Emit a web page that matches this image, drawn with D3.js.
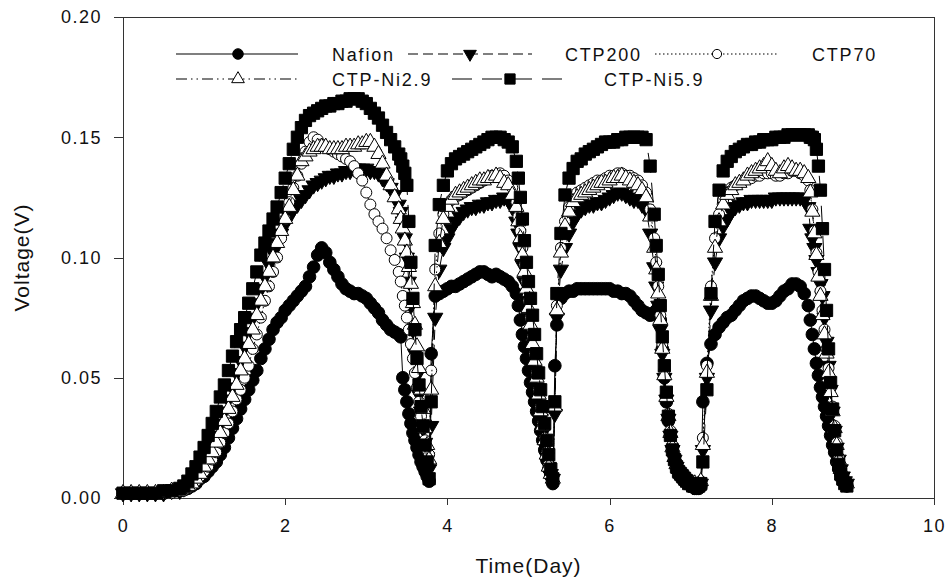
<!DOCTYPE html>
<html>
<head>
<meta charset="utf-8">
<title>Voltage vs Time</title>
<script src="https://d3js.org/d3.v7.min.js"></script>
<style>
  body { margin: 0; background: #fff; }
  svg { display: block; }
  .axis path, .axis line { stroke: #333; stroke-width: 1; shape-rendering: crispEdges; }
  .axis text { font-family: "Liberation Sans", Arial, sans-serif; font-size: 18px; letter-spacing: 1.5px; fill: #111; }
  .legend text { font-family: "Liberation Sans", Arial, sans-serif; font-size: 18px; letter-spacing: 1.8px; fill: #111; }
  .title { font-family: "Liberation Sans", Arial, sans-serif; font-size: 21px; letter-spacing: 1px; fill: #111; }
</style>
</head>
<body>
<svg width="949" height="578"></svg>
<script>
// time axis (days), shared by all series
const days = [0,0.1,0.2,0.3,0.4,0.5,0.6,0.7,
  0.75,0.8,0.85,0.9,0.95,1,1.05,1.1,1.15,1.2,1.25,1.3,1.35,1.4,1.45,1.5,1.55,1.6,1.65,1.7,1.75,1.8,1.85,1.9,1.95,2,2.05,2.1,2.15,2.2,2.25,2.3,2.35,2.4,2.45,2.5,2.55,2.6,2.65,2.7,2.75,2.8,2.85,2.9,2.95,3,3.05,3.1,3.15,3.2,3.25,3.3,3.35,3.4,
  3.425,3.45,3.475,3.5,3.525,3.55,3.575,3.6,3.625,3.65,3.675,3.7,3.725,3.75,3.775,3.8,
  3.85,3.9,3.95,4,4.05,4.1,4.15,4.2,4.25,4.3,4.35,4.4,4.45,4.5,4.55,4.6,4.65,4.7,4.75,4.8,4.85,
  4.875,4.9,4.925,4.95,4.975,5,5.025,5.05,5.075,5.1,5.125,5.15,5.175,5.2,5.225,5.25,5.275,5.3,5.325,5.35,
  5.4,5.45,5.5,5.55,5.6,5.65,5.7,5.75,5.8,5.85,5.9,5.95,6,6.05,6.1,6.15,6.2,6.25,6.3,6.35,6.4,6.45,6.5,6.55,
  6.575,6.6,6.625,6.65,6.675,6.7,6.725,6.75,6.775,6.8,6.825,6.85,6.875,6.9,6.925,6.95,6.975,7,7.025,7.05,7.075,7.1,7.125,7.15,
  7.2,7.25,7.3,7.35,7.4,7.45,7.5,7.55,7.6,7.65,7.7,7.75,7.8,7.85,7.9,7.95,8,8.05,8.1,8.15,8.2,8.25,8.3,8.35,8.4,8.45,
  8.475,8.5,8.525,8.55,8.575,8.6,8.625,8.65,8.675,8.7,8.725,8.75,8.775,8.8,8.825,8.85,8.875,8.9,8.925];

// readings in mV
const nafion = [2,2,2,2,2,2,3,3,
  4,4,5,6,8,9,11,13,15,18,21,25,29,33,37,41,45,49,53,58,62,66,70,73,75,78,80,82,84,86,88,92,96,101,104,102,98,95,92,89,87,86,85,85,84,83,81,79,77,74,72,70,69,68,
  67,50,45,40,35,31,27,24,21,18,15,13,11,9,7,60,
  84,85,86,87,88,88,89,90,91,92,93,94,94,93,92,93,92,91,90,88,85,
  80,74,68,63,58,53,48,44,40,36,32,28,24,20,16,12,9,6,55,72,
  83,85,86,86,87,87,87,87,87,87,87,87,87,86,86,85,85,84,82,80,78,77,76,77,
  78,77,74,62,50,40,32,26,21,17,14,12,10,9,8,7,6,5,5,4,4,4,5,40,
  56,64,68,71,73,75,76,78,80,82,83,84,84,83,82,81,81,82,84,86,87,89,89,88,85,80,
  74,68,62,56,51,46,42,38,34,30,26,22,19,15,12,10,8,6,5];

const ctp200 = [2,2,2,2,2,2,3,3,
  4,5,7,9,12,15,18,22,26,31,36,41,46,52,57,63,69,75,81,87,92,97,102,106,110,114,117,120,122,124,126,128,130,131,132,133,134,134,135,135,136,136,137,137,137,137,136,136,135,133,131,129,126,122,
  119,115,108,100,90,80,70,60,51,43,36,29,23,17,12,30,
  75,95,104,108,112,115,117,119,120,121,121,122,122,123,123,124,124,125,124,121,115,
  110,104,97,90,82,75,67,60,53,46,39,33,27,22,17,13,10,8,35,75,
  95,104,110,115,118,120,121,122,122,123,123,124,125,126,127,127,126,125,124,124,122,120,110,96,
  88,80,70,60,50,41,33,26,20,16,13,11,10,9,8,7,6,6,5,5,5,5,6,20,
  50,78,98,108,113,116,119,121,122,123,123,124,124,124,124,124,124,125,125,125,125,125,125,125,124,121,
  112,108,104,99,94,89,84,75,65,55,45,36,28,21,16,12,9,7,6];

const ctp70 = [2,2,2,2,2,2,2,3,
  3,4,5,7,9,11,13,16,19,23,27,31,36,41,45,50,55,62,68,75,82,88,94,100,108,116,123,129,134,139,144,148,150,149,147,146,145,144,143,142,141,140,138,135,132,127,122,118,115,112,108,103,99,94,
  90,84,80,75,70,64,58,52,46,40,34,29,24,20,18,53,
  95,110,118,122,124,125,126,127,128,129,130,131,132,133,134,134,135,134,132,129,123,
  117,111,104,97,90,82,75,67,60,52,45,38,31,25,19,14,10,8,40,80,
  104,115,121,125,127,128,129,130,131,132,132,133,134,134,135,135,134,134,133,132,130,127,120,108,
  98,88,76,64,53,43,35,28,22,18,15,12,11,10,9,8,7,7,6,6,6,6,7,25,
  55,88,108,118,124,127,129,130,131,132,133,133,134,134,135,135,135,134,134,135,135,136,136,135,134,132,
  128,120,111,102,94,86,78,70,62,54,46,38,30,23,17,12,9,7,6];

const ctpNi29 = [2,2,2,2,2,2,3,3,
  4,5,6,8,10,13,16,19,23,27,32,37,42,47,53,58,64,70,76,82,88,94,100,106,111,116,121,128,134,140,142,144,145,146,146,146,145,145,145,145,146,146,146,147,147,148,148,146,143,139,134,130,125,120,
  116,112,107,102,96,89,81,72,63,54,45,37,29,22,16,45,
  88,106,116,121,124,126,127,128,129,130,131,132,132,133,133,134,133,131,130,126,121,
  115,108,101,94,87,79,72,64,57,50,43,36,30,24,18,13,10,8,38,78,
  102,113,119,123,125,126,127,128,129,130,131,131,132,133,133,134,133,132,131,130,128,125,117,104,
  95,85,74,62,51,42,34,27,21,17,14,12,10,9,8,7,7,6,6,6,5,5,7,22,
  52,84,104,115,122,126,128,130,131,132,134,135,136,137,138,140,138,136,135,137,138,137,136,136,135,133,
  127,119,110,101,92,84,76,68,60,52,44,36,29,22,16,12,9,7,6];

const ctpNi59 = [2,2,2,2,2,3,3,4,
  5,7,10,13,17,21,26,31,36,42,47,53,59,65,70,75,81,87,94,101,106,111,116,121,127,133,139,145,150,154,157,159,160,161,162,163,163,164,164,165,165,166,166,166,165,164,162,160,158,155,152,149,146,143,
  141,138,135,130,115,98,83,70,58,47,38,30,22,15,8,40,
  105,122,130,136,139,141,142,143,144,145,146,147,148,149,150,150,150,149,148,146,140,
  133,125,116,107,98,90,83,76,68,60,52,45,38,31,24,18,12,8,40,85,
  110,126,133,137,140,141,143,144,145,146,147,148,148,148,149,149,150,150,150,150,150,149,138,118,
  105,93,80,67,55,44,34,26,20,16,13,11,10,9,8,7,6,6,5,5,5,5,6,15,
  45,85,115,128,136,140,142,144,145,146,147,147,148,148,149,149,149,150,150,150,151,151,151,151,151,151,
  150,150,149,145,138,128,112,95,78,62,48,37,28,20,14,10,8,6,5];

const seriesNames = ["Nafion", "CTP200", "CTP70", "CTP-Ni2.9", "CTP-Ni5.9"];
const seriesValues = [nafion, ctp200, ctp70, ctpNi29, ctpNi59];
const xTicks = [0, 2, 4, 6, 8, 10];
const yTicks = [0, 0.05, 0.10, 0.15, 0.20];

// marker / line style per series (size = symbol area in px^2)
const styles = [
  { shape: d3.symbolCircle,   size: 125, rot: 0,   fill: "#000", dash: null },
  { shape: d3.symbolTriangle, size: 100, rot: 180, fill: "#000", dash: "10,5" },
  { shape: d3.symbolCircle,   size: 95,  rot: 0,   fill: "#fff", dash: "1.5,2.5" },
  { shape: d3.symbolTriangle, size: 100, rot: 0,   fill: "#fff", dash: "11,4,1.5,4,1.5,4" },
  { shape: d3.symbolSquare,   size: 150, rot: 0,   fill: "#000", dash: "20,10" }
];

// legend placement: sample line x1..x2, marker mx, text tx, row y
const legendPos = [
  { x1: 176, x2: 298, mx: 238, tx: 332, y: 54 },
  { x1: 408, x2: 532, mx: 470, tx: 565, y: 54 },
  { x1: 655, x2: 778, mx: 717, tx: 812, y: 54 },
  { x1: 176, x2: 298, mx: 238, tx: 332, y: 79 },
  { x1: 452, x2: 562, mx: 510, tx: 604, y: 79 }
];

const margin = { top: 17, right: 15, bottom: 80, left: 123 };
const width = 949 - margin.left - margin.right;
const height = 578 - margin.top - margin.bottom;

const svg = d3.select("svg")
  .append("g")
  .attr("transform", "translate(" + margin.left + "," + margin.top + ")");

const x = d3.scaleLinear().domain([0, 10]).range([0, width]);
const y = d3.scaleLinear().domain([0, 0.2]).range([height, 0]);

// frame (top and right)
svg.append("line").attr("x1", 0).attr("x2", width).attr("y1", 0.5).attr("y2", 0.5)
  .attr("stroke", "#333").attr("shape-rendering", "crispEdges");
svg.append("line").attr("x1", width + 0.5).attr("x2", width + 0.5).attr("y1", 0).attr("y2", height)
  .attr("stroke", "#333").attr("shape-rendering", "crispEdges");

svg.append("g")
  .attr("class", "axis")
  .attr("transform", "translate(0," + height + ")")
  .call(d3.axisBottom(x).tickValues(xTicks).tickSize(7).tickSizeOuter(0).tickPadding(14).tickFormat(d3.format("d")));

svg.append("g")
  .attr("class", "axis")
  .call(d3.axisLeft(y).tickValues(yTicks).tickSize(9).tickSizeOuter(0).tickPadding(12).tickFormat(d3.format(".2f")));

// axis titles
svg.append("text").attr("class", "title")
  .attr("x", width / 2).attr("y", 556)
  .attr("text-anchor", "middle")
  .text("Time(Day)");

svg.append("text").attr("class", "title")
  .attr("transform", "translate(" + (29 - margin.left) + "," + (height / 2) + ") rotate(-90)")
  .attr("text-anchor", "middle")
  .text("Voltage(V)");

const line = d3.line().x(d => x(d.t)).y(d => y(d.v));

function symbolPath(st, k) {
  return d3.symbol().type(st.shape).size(st.size * k)();
}

seriesValues.forEach((vals, i) => {
  const st = styles[i];
  const n = Math.min(days.length, vals.length);
  const pts = [];
  for (let k = 0; k < n; k++) pts.push({ t: days[k], v: vals[k] / 1000 });

  const g = svg.append("g");
  g.append("path")
    .datum(pts)
    .attr("d", line)
    .attr("fill", "none")
    .attr("stroke", "#000")
    .attr("stroke-width", 1)
    .attr("stroke-dasharray", st.dash);

  g.selectAll("path.pt")
    .data(pts)
    .join("path")
    .attr("class", "pt")
    .attr("d", symbolPath(st, 1))
    .attr("transform", d => "translate(" + x(d.t) + "," + y(d.v) + ") rotate(" + st.rot + ")")
    .attr("fill", st.fill)
    .attr("stroke", "#000")
    .attr("stroke-width", 1);
});

// legend (absolute page coordinates)
const legend = d3.select("svg").append("g").attr("class", "legend");
seriesNames.forEach((name, i) => {
  const st = styles[i];
  const p = legendPos[i];
  legend.append("line")
    .attr("x1", p.x1).attr("x2", p.x2).attr("y1", p.y).attr("y2", p.y)
    .attr("stroke", "#000").attr("stroke-width", 1.2)
    .attr("stroke-dasharray", st.dash);
  legend.append("path")
    .attr("d", symbolPath(st, 0.7))
    .attr("transform", "translate(" + p.mx + "," + p.y + ") rotate(" + st.rot + ")")
    .attr("fill", st.fill).attr("stroke", "#000").attr("stroke-width", 1);
  legend.append("text")
    .attr("x", p.tx).attr("y", p.y + 7)
    .text(name);
});
</script>
</body>
</html>
